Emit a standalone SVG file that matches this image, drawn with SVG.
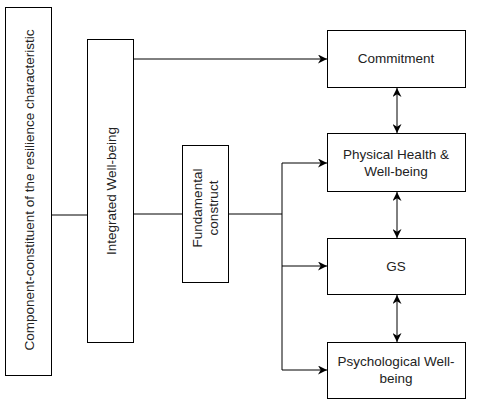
<svg xmlns="http://www.w3.org/2000/svg" width="479" height="403" viewBox="0 0 479 403">
<style>
.box{fill:#fff;stroke:#000;stroke-width:1}
.t{font-family:"Liberation Sans",Arial,sans-serif;font-size:13.5px;fill:#222;text-anchor:middle;dominant-baseline:central}
.c{fill:none;stroke:#000;stroke-width:1}
</style>
<defs>
<marker id="ah" viewBox="0 0 10 10" refX="10" refY="5" markerWidth="9" markerHeight="9" markerUnits="userSpaceOnUse" orient="auto-start-reverse">
<path d="M0,0 L10,5 L0,10 L3,5 Z" fill="#000"/>
</marker>
</defs>
<rect width="479" height="403" fill="#fff"/>
<g id="connectors">
<line class="c" x1="52" y1="215" x2="87" y2="215"/>
<line class="c" x1="134" y1="59" x2="327" y2="59" marker-end="url(#ah)"/>
<line class="c" x1="134" y1="214" x2="182" y2="214"/>
<polyline class="c" points="229,214 282,214"/>
<line class="c" x1="282" y1="163" x2="282" y2="370"/>
<line class="c" x1="282" y1="163" x2="327" y2="163" marker-end="url(#ah)"/>
<line class="c" x1="282" y1="266" x2="327" y2="266" marker-end="url(#ah)"/>
<line class="c" x1="282" y1="370" x2="327" y2="370" marker-end="url(#ah)"/>
<line class="c" x1="397" y1="88" x2="397" y2="133" marker-start="url(#ah)" marker-end="url(#ah)"/>
<line class="c" x1="397" y1="192" x2="397" y2="238" marker-start="url(#ah)" marker-end="url(#ah)"/>
<line class="c" x1="397" y1="295" x2="397" y2="342" marker-start="url(#ah)" marker-end="url(#ah)"/>
</g>
<g id="component">
<rect class="box" x="5.5" y="7.5" width="46" height="368"/>
<text class="t" transform="translate(29,190) rotate(-90)">Component-constituent of the resilience characteristic</text>
</g>
<g id="integrated">
<rect class="box" x="87.5" y="39.5" width="46" height="303"/>
<text class="t" transform="translate(111,191) rotate(-90)">Integrated Well-being</text>
</g>
<g id="fundamental">
<rect class="box" x="182.5" y="145.5" width="46" height="137"/>
<text class="t" transform="translate(197,208) rotate(-90)">Fundamental</text>
<text class="t" transform="translate(213,208) rotate(-90)">construct</text>
</g>
<g id="commitment">
<rect class="box" x="327.5" y="30.5" width="138" height="57"/>
<text class="t" x="396" y="58">Commitment</text>
</g>
<g id="physical">
<rect class="box" x="327.5" y="133.5" width="138" height="58"/>
<text class="t" x="396" y="154">Physical Health &amp;</text>
<text class="t" x="396" y="171">Well-being</text>
</g>
<g id="gs">
<rect class="box" x="327.5" y="238.5" width="138" height="56"/>
<text class="t" x="396" y="266">GS</text>
</g>
<g id="psychological">
<rect class="box" x="327.5" y="342.5" width="138" height="56"/>
<text class="t" x="396" y="361">Psychological Well-</text>
<text class="t" x="396" y="378">being</text>
</g>
</svg>
